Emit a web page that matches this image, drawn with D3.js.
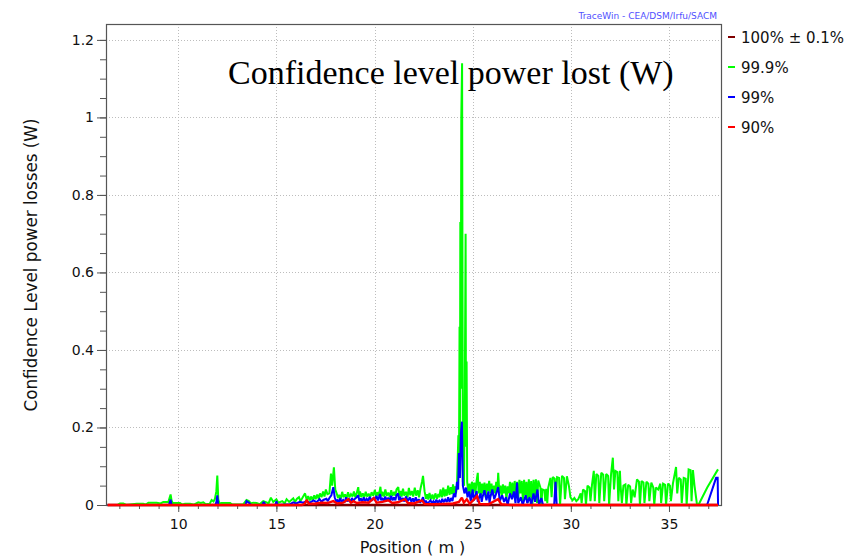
<!DOCTYPE html>
<html>
<head>
<meta charset="utf-8">
<script src="https://cdn.jsdelivr.net/npm/d3@7/dist/d3.min.js"></script>
<style>
  html, body { margin: 0; padding: 0; background: #fff; }
  svg { display: block; }
</style>
</head>
<body>
<svg id="chart" width="858" height="557"></svg>
<script>
// Confidence-level power losses along the linac, [position (m), power (W)]
const seriesNames = ["100% \u00b1 0.1%", "99.9%", "99%", "90%"];
const seriesColors = ["#800000", "#00ff00", "#0000ff", "#ff0000"];

const loss100 = [[6.4,0],[37.5,0]];

const loss999 = [
  [6.4,0],[6.9,0],[7.03,0.004],[7.2,0.004],[7.35,0],[7.88,0.003],[8.22,0.003],[8.35,0.001],
  [8.48,0.006],[8.9,0.006],[9.1,0.004],[9.24,0.008],[9.5,0.008],[9.61,0.027],[9.66,0.012],[9.72,0.005],
  [10.09,0.005],[10.2,0.001],[10.34,0.003],[10.6,0.003],[10.8,0.001],[11.02,0.007],[11.15,0.005],[11.28,0.007],
  [11.4,0.002],[11.6,0.003],[11.7,0.013],[11.8,0.009],[11.87,0.016],[11.94,0.035],[11.99,0.076],[12.04,0.015],
  [12.1,0.004],[12.21,0.005],[12.64,0.005],[12.75,0.001],[13.3,0.001],[13.48,0.013],[13.6,0.01],[13.7,0.004],
  [13.82,0.006],[13.99,0.005],[14.15,0.002],[14.33,0.01],[14.5,0.007],[14.6,0.004],[14.72,0.019],[14.84,0.008],
  [15.0,0.015],[15.1,0.006],[15.3,0.01],[15.42,0.004],[15.52,0.015],[15.65,0.008],[15.86,0.017],[15.95,0.008],
  [16.05,0.016],[16.15,0.02],[16.22,0.01],[16.3,0.016],[16.46,0.030],[16.55,0.012],[16.62,0.023],[16.7,0.012],
  [16.78,0.022],[16.85,0.012],[16.93,0.025],[17.0,0.015],[17.08,0.027],[17.15,0.016],[17.22,0.03],[17.3,0.02],
  [17.38,0.035],[17.45,0.022],[17.52,0.04],[17.6,0.028],[17.7,0.03],[17.78,0.081],[17.84,0.05],[17.93,0.097],
  [18.0,0.04],[18.07,0.03],[18.14,0.018],[18.2,0.026],[18.28,0.016],[18.35,0.034],[18.42,0.02],[18.5,0.027],
  [18.58,0.018],[18.65,0.033],[18.72,0.02],[18.8,0.028],[18.88,0.022],[18.95,0.035],[19.02,0.02],[19.09,0.03],
  [19.17,0.046],[19.22,0.022],[19.26,0.035],[19.33,0.02],[19.4,0.03],[19.48,0.02],[19.55,0.034],[19.62,0.022],
  [19.7,0.029],[19.78,0.02],[19.85,0.033],[19.93,0.024],[20.02,0.039],[20.08,0.022],[20.15,0.033],[20.22,0.024],
  [20.3,0.047],[20.35,0.022],[20.4,0.034],[20.48,0.022],[20.55,0.04],[20.62,0.024],[20.7,0.032],[20.78,0.02],
  [20.85,0.038],[20.92,0.024],[21.0,0.034],[21.06,0.024],[21.12,0.04],[21.21,0.046],[21.26,0.024],[21.32,0.036],
  [21.38,0.022],[21.45,0.042],[21.52,0.024],[21.6,0.034],[21.68,0.02],[21.75,0.044],[21.82,0.025],[21.9,0.036],
  [21.97,0.022],[22.05,0.045],[22.12,0.024],[22.2,0.038],[22.27,0.02],[22.34,0.042],[22.42,0.06],[22.47,0.075],
  [22.55,0.035],[22.62,0.016],[22.68,0.028],[22.74,0.014],[22.8,0.031],[22.88,0.015],[22.95,0.027],[23.02,0.014],
  [23.1,0.03],[23.18,0.016],[23.25,0.028],[23.3,0.02],[23.36,0.04],[23.43,0.02],[23.5,0.045],[23.56,0.022],
  [23.62,0.04],[23.68,0.024],[23.75,0.05],[23.82,0.026],[23.88,0.046],[23.94,0.028],[24.0,0.053],[24.05,0.03],
  [24.1,0.048],[24.15,0.03],[24.2,0.05],[24.27,0.18],
  [24.3,0.07],[24.33,0.46],[24.35,0.12],[24.37,0.73],[24.39,0.3],[24.42,1.0],[24.46,1.14],[24.5,0.06],
  [24.56,0.05],[24.6,0.3],[24.64,0.70],[24.66,0.15],[24.69,0.37],[24.72,0.06],[24.78,0.03],[24.84,0.055],
  [24.9,0.02],[24.96,0.06],[25.02,0.035],[25.08,0.058],[25.14,0.03],[25.2,0.062],[25.26,0.083],[25.3,0.03],
  [25.36,0.06],[25.42,0.025],[25.48,0.055],[25.54,0.03],[25.6,0.058],[25.66,0.02],[25.72,0.055],[25.78,0.035],
  [25.84,0.062],[25.9,0.03],[25.96,0.055],[26.02,0.025],[26.08,0.05],[26.14,0.03],[26.2,0.06],[26.26,0.04],
  [26.3,0.083],[26.36,0.03],[26.42,0.05],[26.48,0.02],[26.54,0.053],[26.6,0.03],[26.66,0.05],[26.72,0.015],
  [26.78,0.048],[26.84,0.03],[26.9,0.06],[26.96,0.025],[27.02,0.058],[27.08,0.02],[27.14,0.062],[27.2,0.03],
  [27.26,0.06],[27.32,0.015],[27.38,0.065],[27.44,0.03],[27.5,0.062],[27.56,0.01],[27.62,0.065],[27.68,0.025],
  [27.74,0.06],[27.8,0.005],[27.86,0.066],[27.92,0.02],[27.98,0.062],[28.04,0.0],[28.1,0.065],[28.16,0.015],
  [28.22,0.066],[28.28,0.005],[28.34,0.063],[28.45,0.045],[28.5,0.0],[28.55,0.04],[28.65,0.038],[28.7,0.01],
  [28.75,0.042],[28.8,0.005],[28.85,0.045],[28.96,0.07],[29.02,0.02],[29.08,0.072],[29.18,0.068],[29.23,0.01],
  [29.3,0.072],[29.4,0.07],[29.45,0.0],[29.55,0.075],[29.65,0.07],[29.7,0.015],[29.8,0.074],[29.9,0.05],
  [29.98,0.02],[30.08,0.012],[30.18,0.018],[30.28,0.01],[30.38,0.015],[30.5,0.03],[30.55,0.005],[30.62,0.04],
  [30.72,0.036],[30.77,0.0],[30.85,0.05],[30.95,0.045],[31.0,0.01],[31.08,0.053],[31.17,0.088],[31.22,0.01],
  [31.3,0.08],[31.4,0.075],[31.45,0.005],[31.55,0.083],[31.65,0.078],[31.7,0.01],[31.8,0.08],[31.9,0.075],
  [31.95,0.0],[32.05,0.08],[32.14,0.122],[32.2,0.04],[32.27,0.088],[32.37,0.085],[32.42,0.01],[32.5,0.088],
  [32.53,0.053],[32.6,0.005],[32.68,0.05],[32.78,0.053],[32.83,0.0],[32.92,0.052],[33.02,0.048],[33.07,0.005],
  [33.15,0.04],[33.25,0.02],[33.37,0.066],[33.47,0.06],[33.52,0.0],[33.6,0.062],[33.7,0.058],[33.75,0.005],
  [33.85,0.06],[33.95,0.055],[34.0,0.01],[34.1,0.058],[34.2,0.045],[34.25,0.0],[34.33,0.045],[34.45,0.04],
  [34.56,0.055],[34.6,0.005],[34.7,0.055],[34.8,0.052],[34.85,0.0],[34.95,0.055],[35.05,0.05],[35.1,0.01],
  [35.2,0.055],[35.36,0.098],[35.42,0.03],[35.5,0.07],[35.6,0.066],[35.65,0.005],[35.75,0.07],[35.85,0.068],
  [35.9,0.0],[36.0,0.092],[36.1,0.09],[36.15,0.01],[36.22,0.09],[36.3,0.05],[36.43,0.0],[36.5,0.0],
  [36.95,0.045],[37.45,0.088],[37.5,0.092]
];

const loss99 = [
  [6.4,0],[9.52,0],[9.58,0.008],[9.61,0.014],[9.66,0],[11.9,0],[11.95,0.01],[11.99,0.025],[12.04,0],
  [13.42,0],[13.48,0.01],[13.6,0.006],[13.7,0],[14.28,0],[14.35,0.008],[14.45,0],[14.95,0],[15.0,0.01],
  [15.06,0],[15.7,0.002],[15.86,0.007],[16.0,0.004],[16.2,0.008],[16.37,0.006],[16.54,0.01],[16.7,0.006],
  [16.9,0.012],[17.05,0.007],[17.2,0.015],[17.3,0.008],[17.39,0.013],[17.55,0.016],[17.62,0.01],[17.7,0.018],
  [17.8,0.025],[17.9,0.046],[17.97,0.02],[18.05,0.008],[18.1,0.014],[18.18,0.006],[18.25,0.018],[18.32,0.008],
  [18.4,0.013],[18.48,0.007],[18.55,0.02],[18.62,0.009],[18.7,0.015],[18.78,0.008],[18.85,0.018],[18.92,0.01],
  [19.0,0.016],[19.09,0.02],[19.17,0.025],[19.23,0.01],[19.3,0.017],[19.38,0.009],[19.45,0.02],[19.52,0.01],
  [19.6,0.016],[19.68,0.01],[19.75,0.021],[19.85,0.011],[19.94,0.018],[20.02,0.012],[20.1,0.024],[20.18,0.012],
  [20.28,0.028],[20.34,0.012],[20.4,0.018],[20.48,0.01],[20.55,0.022],[20.62,0.011],[20.7,0.019],[20.78,0.01],
  [20.85,0.024],[20.92,0.012],[21.0,0.02],[21.06,0.012],[21.12,0.026],[21.2,0.03],[21.25,0.012],[21.3,0.022],
  [21.38,0.01],[21.45,0.018],[21.52,0.009],[21.6,0.022],[21.7,0.01],[21.8,0.02],[21.88,0.008],[21.95,0.017],
  [22.02,0.008],[22.1,0.02],[22.18,0.007],[22.25,0.015],[22.32,0.006],[22.4,0.012],[22.47,0.02],[22.55,0.006],
  [22.62,0.01],[22.7,0.004],[22.78,0.008],[22.85,0.012],[22.92,0.005],[23.0,0.01],[23.08,0.004],[23.15,0.014],
  [23.22,0.006],[23.3,0.011],[23.38,0.005],[23.45,0.016],[23.52,0.007],[23.6,0.014],[23.68,0.008],[23.75,0.02],
  [23.82,0.008],[23.9,0.018],[23.97,0.01],[24.04,0.03],[24.12,0.02],[24.2,0.06],[24.26,0.04],[24.3,0.134],
  [24.35,0.07],[24.4,0.185],[24.45,0.215],[24.5,0.05],[24.58,0.03],[24.66,0.045],[24.74,0.02],[24.82,0.035],
  [24.9,0.01],[25.0,0.04],[25.06,0.012],[25.1,0.018],[25.2,0.036],[25.26,0.008],[25.3,0.015],[25.4,0.03],
  [25.46,0.008],[25.5,0.02],[25.6,0.038],[25.7,0.012],[25.8,0.035],[25.86,0.005],[25.9,0.02],[26.0,0.04],
  [26.1,0.015],[26.2,0.03],[26.3,0.046],[26.38,0.01],[26.5,0.025],[26.6,0.008],[26.7,0.02],[26.78,0.0],
  [26.9,0.03],[27.0,0.015],[27.1,0.035],[27.18,0.005],[27.26,0.058],[27.32,0.005],[27.45,0.02],[27.55,0.0],
  [27.7,0.025],[27.78,0.005],[27.9,0.02],[27.98,0.0],[28.1,0.03],[28.18,0.008],[28.3,0.04],[28.38,0.0],
  [28.5,0.018],[28.58,0.0],[29.15,0.0],[29.22,0.06],[29.28,0.0],
  [36.94,0.0],[37.4,0.07],[37.48,0.07],[37.5,0.0]
];

const loss90 = [
  [6.4,0],[16.3,0],[16.45,0.004],[16.55,0.013],[16.65,0.003],[17.0,0.004],[17.3,0.006],[17.6,0.005],
  [17.9,0.01],[18.1,0.004],[18.4,0.006],[18.66,0.015],[18.8,0.006],[18.92,0.01],[19.1,0.005],[19.4,0.007],
  [19.7,0.006],[19.97,0.018],[20.1,0.006],[20.4,0.008],[20.7,0.012],[20.9,0.005],[21.2,0.007],[21.55,0.015],
  [21.7,0.005],[22.0,0.004],[22.42,0.012],[22.55,0.003],[23.0,0.002],[23.5,0.003],[24.0,0.004],[24.3,0.008],
  [24.45,0.019],[24.55,0.006],[24.7,0.015],[24.85,0.003],[25.22,0.023],[25.35,0.003],[25.8,0.002],[26.3,0.015],
  [26.45,0.002],[27.0,0],[37.5,0]
];

const xMajorTicks = [10, 15, 20, 25, 30, 35];
const xMinorTicks = d3.range(7, 38, 1);
const yMajorTicks = [0, 0.2, 0.4, 0.6, 0.8, 1, 1.2];
const yMinorTicks = d3.range(0, 1.21, 0.05);

const svg = d3.select("#chart");
const W = 858, H = 557;
const plot = { left: 106, right: 721, top: 24, bottom: 505 };

const x = d3.scaleLinear().domain([6.32, 37.65]).range([plot.left, plot.right]);
const y = d3.scaleLinear().domain([0, 1.241]).range([plot.bottom, plot.top]);

svg.append("rect").attr("width", W).attr("height", H).attr("fill", "#fff");

// dotted grid at major ticks
const grid = svg.append("g").attr("stroke", "#bdbdbd").attr("stroke-dasharray", "1,2").attr("stroke-width", 1);
grid.selectAll("line.gx").data(xMajorTicks).join("line")
  .attr("x1", d => Math.round(x(d)) + 0.5).attr("x2", d => Math.round(x(d)) + 0.5)
  .attr("y1", plot.top).attr("y2", plot.bottom);
grid.selectAll("line.gy").data(yMajorTicks.filter(d => d > 0)).join("line")
  .attr("y1", d => Math.round(y(d)) + 0.5).attr("y2", d => Math.round(y(d)) + 0.5)
  .attr("x1", plot.left).attr("x2", plot.right);

// axes
const tickFont = "'DejaVu Sans', Tahoma, sans-serif";
const xAxisMinor = d3.axisBottom(x).tickValues(xMinorTicks).tickSize(4).tickFormat("");
const xAxisMajor = d3.axisBottom(x).tickValues(xMajorTicks).tickSize(7).tickPadding(7).tickFormat(d3.format("d"));
const yAxisMinor = d3.axisLeft(y).tickValues(yMinorTicks).tickSize(6).tickFormat("");
const yAxisMajor = d3.axisLeft(y).tickValues(yMajorTicks).tickSize(9).tickPadding(3).tickFormat(d3.format("~g"));

function styleAxis(g) {
  g.select(".domain").remove();
  g.selectAll(".tick line").attr("stroke", "#555");
  g.selectAll(".tick text").attr("fill", "#111").style("font-family", tickFont).style("font-size", "14px");
}

svg.append("g").attr("transform", `translate(0,${plot.bottom})`).call(xAxisMinor).call(styleAxis);
svg.append("g").attr("transform", `translate(0,${plot.bottom})`).call(xAxisMajor).call(styleAxis);
svg.append("g").attr("transform", `translate(${plot.left},0)`).call(yAxisMinor).call(styleAxis);
svg.append("g").attr("transform", `translate(${plot.left},0)`).call(yAxisMajor).call(styleAxis);

// plot frame
svg.append("rect")
  .attr("x", plot.left + 0.5).attr("y", plot.top + 0.5)
  .attr("width", plot.right - plot.left).attr("height", plot.bottom - plot.top)
  .attr("fill", "none").attr("stroke", "#555").attr("stroke-width", 1.2);

// series lines
svg.append("clipPath").attr("id", "plotClip").append("rect")
  .attr("x", plot.left).attr("y", plot.top - 1)
  .attr("width", plot.right - plot.left).attr("height", plot.bottom - plot.top + 3);

const line = d3.line().x(d => x(d[0])).y(d => y(d[1]));
const series = [
  { data: loss100, color: seriesColors[0], width: 2.4 },
  { data: loss999, color: seriesColors[1], width: 2 },
  { data: loss99, color: seriesColors[2], width: 2 },
  { data: loss90, color: seriesColors[3], width: 2.4 }
];
const lines = svg.append("g").attr("clip-path", "url(#plotClip)");
lines.selectAll("path").data(series).join("path")
  .attr("d", d => line(d.data))
  .attr("fill", "none")
  .attr("stroke", d => d.color)
  .attr("stroke-width", d => d.width)
  .attr("stroke-linejoin", "miter")
  .attr("stroke-miterlimit", 2);

// title inside the plot
svg.append("text")
  .attr("x", 228).attr("y", 84)
  .style("font-family", "'Liberation Serif', 'Times New Roman', serif")
  .style("font-size", "34px")
  .attr("fill", "#000")
  .text("Confidence level power lost (W)");

// axis titles
svg.append("text")
  .attr("x", 412.5).attr("y", 553)
  .attr("text-anchor", "middle")
  .style("font-family", tickFont).style("font-size", "16px")
  .attr("fill", "#111")
  .text("Position ( m )");

svg.append("text")
  .attr("transform", "translate(37,265) rotate(-90)")
  .attr("text-anchor", "middle")
  .style("font-family", tickFont).style("font-size", "16.8px")
  .attr("fill", "#111")
  .text("Confidence Level power losses (W)");

// watermark
svg.append("text")
  .attr("x", 717).attr("y", 18.5)
  .attr("text-anchor", "end")
  .style("font-family", tickFont).style("font-size", "9px")
  .attr("fill", "#5050ff")
  .text("TraceWin - CEA/DSM/Irfu/SACM");

// legend
const legend = svg.append("g").selectAll("g").data(seriesNames).join("g")
  .attr("transform", (d, i) => `translate(728,${37 + i * 30})`);
legend.append("line")
  .attr("x1", 0).attr("x2", 7).attr("y1", 0).attr("y2", 0)
  .attr("stroke", (d, i) => seriesColors[i]).attr("stroke-width", 2);
legend.append("text")
  .attr("x", 13).attr("y", 6)
  .style("font-family", tickFont).style("font-size", "15px")
  .attr("fill", "#111")
  .text(d => d);
</script>
</body>
</html>
